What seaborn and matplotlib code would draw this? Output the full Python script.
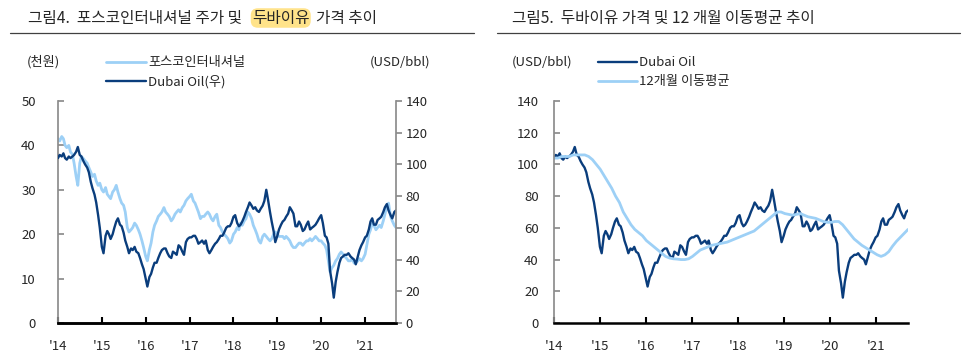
import numpy as np
import pandas as pd
import seaborn as sns
import matplotlib.pyplot as plt

# -------------- DATA --------------------------------------------#

# semi-monthly points, 2014-01 .. 2021-09
dubai = [
    104, 106, 105, 107, 104, 103, 105, 104, 105, 106, 108, 111, 106, 105, 102, 100, 98, 95, 89, 85, 81, 76, 68, 60,
    48, 44, 55, 58, 56, 53, 56, 60, 64, 66, 62, 61, 57, 52, 48, 44, 47, 46, 48, 45, 44, 41, 37, 34,
    28, 23, 29, 31, 35, 38, 38, 41, 44, 46, 47, 47, 44, 42, 41, 45, 44, 43, 49, 48, 45, 43, 51, 53,
    54, 54, 55, 55, 53, 50, 51, 52, 50, 52, 46, 44, 46, 48, 50, 51, 53, 55, 55, 57, 60, 61, 61, 63,
    67, 68, 63, 61, 62, 64, 67, 70, 73, 76, 74, 72, 73, 71, 70, 72, 74, 77, 84, 78, 70, 64, 58, 51,
    55, 59, 62, 64, 65, 67, 69, 73, 71, 69, 61, 61, 64, 62, 58, 59, 62, 64, 59, 60, 61, 62, 64, 66,
    68, 63, 55, 54, 50, 33, 25, 16, 26, 32, 38, 41, 42, 43, 43, 44, 42, 41, 40, 37, 42, 46, 49, 51,
    54, 55, 59, 64, 66, 62, 62, 65, 66, 67, 70, 73, 75, 71, 68, 66, 70, 71,
]

posco = [
    41.5, 41, 42, 41.5, 40, 39.5, 40, 38.5, 38, 36, 33, 31, 36, 37.5, 37, 36.5, 36, 35, 34, 33, 33.5, 32, 31, 31.5,
    30, 29.5, 30.5, 29, 28.5, 28, 29.5, 30, 31, 29.5, 28, 27, 26.5, 25, 21.5, 20.5, 21, 21.5, 22.5, 22, 21, 20, 18.5, 17,
    15, 14, 16.5, 18, 20.5, 22, 23, 24, 24.5, 25, 26, 25, 24.5, 24, 23, 23.5, 24.5, 25, 25.5, 25, 26, 26.5, 27.5, 28,
    28.5, 29, 27.5, 27, 26, 25, 23.5, 24, 24, 24.5, 25, 24.5, 23.5, 23, 24, 24.5, 22, 21.5, 20.5, 20, 19.5, 19, 18, 18.5,
    20, 20.5, 21.5, 21, 22.5, 22, 23, 23.5, 25, 24.5, 23.5, 22, 21, 20, 18.5, 18, 19.5, 20, 19.5, 19, 18.5, 19, 20, 20.5,
    20, 19.5, 19.5, 19.5, 19, 19.5, 19, 18.5, 17.5, 17, 17, 17.5, 18, 18, 17.5, 18, 18.5, 18.5, 19, 18.5, 19, 19.5, 19, 18.5,
    18.5, 18, 17.5, 16.5, 14, 11.5, 12.5, 13, 14, 14.5, 15.5, 16, 15.5, 15, 14.5, 14, 14, 14.5, 13.5, 13.5, 14, 14.5, 14, 14.5,
    15.5, 17.5, 20, 21, 22.5, 22, 21, 21.5, 22, 21.5, 23, 24.5, 26.5, 27, 24, 23, 22, 21.5,
]

# monthly 12-month moving average, 2014-01 .. 2021-09
dubai_ma12 = [
    104, 104, 105, 105, 105, 106, 106, 106, 106, 105, 103, 100,
    97, 93, 89, 85, 80, 76, 70, 66, 62, 59, 57, 55,
    52, 50, 48, 46, 44, 42, 41, 40.5, 40.3, 40, 40, 40.5,
    42, 44, 46, 47, 48, 49, 49.5, 50, 50.5, 51, 52, 53,
    54, 55, 56, 57, 58, 60, 62, 64, 66, 68, 70, 70,
    69, 68.5, 68, 68.5, 69, 68, 67, 66.5, 66, 65, 64, 63.5,
    63.5, 64, 64, 62, 59, 56, 53, 51, 49, 47.5, 46, 44.5,
    43, 42, 43, 45, 48.5, 51.5, 54, 56.5, 59,
]

dates_sm = pd.date_range('2014-01-01', periods=len(dubai), freq='SMS')
dates_ma = pd.date_range('2014-01-01', '2021-09-15', periods=len(dubai_ma12))
year_ticks = pd.to_datetime([f'{y}-01-01' for y in range(2014, 2022)])
year_labels = [f"'{y % 100}" for y in range(2014, 2022)]

# -------------- STYLE -------------------#

sns.set_theme(style='white')
plt.rcParams['font.family'] = ['Noto Sans CJK KR', 'DejaVu Sans']

DARK = '#0a3d7c'
LIGHT = '#9dd0f6'
GREY = '#8c8c8c'
W, H = 966, 354
FS = 9.5

fig = plt.figure(figsize=(W / 100, H / 100), dpi=100)

def px(x, y):
    return x / W, 1 - y / H

def style_x(ax):
    ax.set_xlim(pd.Timestamp('2014-01-01'), pd.Timestamp('2021-09-15'))
    ax.set_xticks(year_ticks)
    ax.set_xticklabels(year_labels)
    ax.tick_params(axis='x', direction='in', length=4, width=1.5, color='black',
                   pad=12, labelsize=FS, bottom=True)
    ax.spines['bottom'].set_color('black')
    ax.spines['bottom'].set_linewidth(1.8)
    ax.spines['top'].set_visible(False)
    ax.set_xlabel('')

# -------------- LEFT PANEL -------------------#

ax1 = fig.add_axes([58 / W, 1 - 323 / H, 338 / W, 222 / H])
ax1b = ax1.twinx()
sns.lineplot(x=dates_sm, y=posco, ax=ax1, color=LIGHT, lw=2.0, label='포스코인터내셔널', legend=False)
sns.lineplot(x=dates_sm, y=dubai, ax=ax1b, color=DARK, lw=1.7, label='Dubai Oil(우)', legend=False)

ax1.set_ylim(0, 50)
ax1.set_yticks(range(0, 51, 10))
ax1b.set_ylim(0, 140)
ax1b.set_yticks(range(0, 141, 20))
style_x(ax1)
for a in (ax1, ax1b):
    a.spines['top'].set_visible(False)
    a.spines['left'].set_color(GREY)
    a.spines['right'].set_color(GREY)
    a.spines['bottom'].set_color('black')
    a.spines['bottom'].set_linewidth(1.8)
    a.set_ylabel('')
ax1b.spines['left'].set_visible(False)
ax1.spines['right'].set_visible(False)
ax1.tick_params(axis='y', direction='in', length=4, color=GREY, pad=16, labelsize=FS, left=True)
ax1b.tick_params(axis='y', direction='out', length=4, color=GREY, pad=3, labelsize=FS, right=True)

h1 = ax1.get_lines()[:1] + ax1b.get_lines()[:1]
fig.legend(h1, ['포스코인터내셔널', 'Dubai Oil(우)'], loc='upper left',
           bbox_to_anchor=px(101, 51), frameon=False, fontsize=FS,
           handlelength=3.0, handletextpad=0.2, labelspacing=0.45, borderaxespad=0)
fig.text(*px(27, 62), '(천원)', fontsize=FS, va='center', ha='left')
fig.text(*px(370, 62), '(USD/bbl)', fontsize=FS, va='center', ha='left')

# -------------- RIGHT PANEL -------------------#

ax2 = fig.add_axes([554 / W, 1 - 323 / H, 354 / W, 222 / H])
sns.lineplot(x=dates_sm, y=dubai, ax=ax2, color=DARK, lw=1.7, label='Dubai Oil', legend=False)
sns.lineplot(x=dates_ma, y=dubai_ma12, ax=ax2, color=LIGHT, lw=2.0, label='12개월 이동평균', legend=False)
ax2.set_ylim(0, 140)
ax2.set_yticks(range(0, 141, 20))
style_x(ax2)
ax2.spines['right'].set_visible(False)
ax2.spines['left'].set_color(GREY)
ax2.set_ylabel('')
ax2.tick_params(axis='y', direction='in', length=4, color=GREY, pad=11, labelsize=FS, left=True)

fig.legend(ax2.get_lines()[:2], ['Dubai Oil', '12개월 이동평균'], loc='upper left',
           bbox_to_anchor=px(593, 51), frameon=False, fontsize=FS,
           handlelength=2.9, handletextpad=0.2, labelspacing=0.45, borderaxespad=0)
fig.text(*px(512, 62), '(USD/bbl)', fontsize=FS, va='center', ha='left')

# -------------- TITLES -------------------#

TS = 11.3
renderer = fig.canvas.get_renderer()
t1 = fig.text(*px(28, 18), '그림4.  포스코인터내셔널 주가 및', fontsize=TS, va='center', ha='left')
x_after = t1.get_window_extent(renderer).x1 + 10
t2 = fig.text(x_after / W, 1 - 18 / H, '두바이유', fontsize=TS, va='center', ha='left',
              bbox=dict(boxstyle='round,pad=0.08,rounding_size=0.45', fc='#ffe38a', ec='none'))
x_after = t2.get_window_extent(renderer).x1 + 7
fig.text(x_after / W, 1 - 18 / H, '가격 추이', fontsize=TS, va='center', ha='left')
fig.text(*px(512, 18), '그림5.  두바이유 가격 및 12 개월 이동평균 추이', fontsize=TS, va='center', ha='left')

fig.add_artist(plt.Line2D([10 / W, 474 / W], [1 - 33 / H] * 2, color='#404040', lw=0.9))
fig.add_artist(plt.Line2D([497 / W, 960 / W], [1 - 33 / H] * 2, color='#404040', lw=0.9))

fig.savefig('out.png', dpi=100)
